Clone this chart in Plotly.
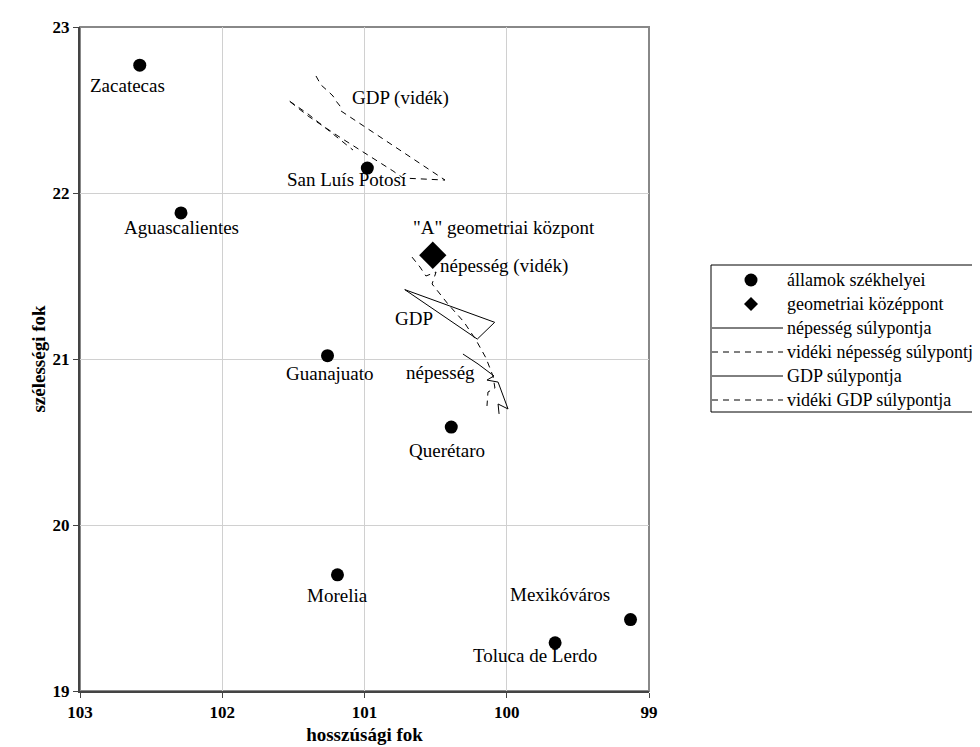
import plotly.graph_objects as go

# ---- data (longitude W in degrees, latitude N in degrees) ----
cities = ["Zacatecas", "San Luís Potosí", "Aguascalientes", "Guanajuato",
          "Querétaro", "Morelia", "Toluca de Lerdo", "Mexikóváros"]
city_lon = [102.58, 100.98, 102.29, 101.26, 100.39, 101.19, 99.66, 99.13]
city_lat = [22.77, 22.15, 21.88, 21.02, 20.59, 19.70, 19.29, 19.43]

center_lon = [100.52]
center_lat = [21.625]

pop_lon = [100.308, 100.202, 100.090, 100.139, 100.061, 100.026, 99.991, 100.061, 100.054]
pop_lat = [21.030, 20.970, 20.898, 20.873, 20.861, 20.777, 20.699, 20.729, 20.669]

rpop_lon = [100.666, 100.610, 100.568, 100.497, 100.525, 100.413, 100.301, 100.216,
            100.146, 100.097, 100.083, 100.132, 100.139]
rpop_lat = [21.614, 21.554, 21.500, 21.524, 21.452, 21.331, 21.223, 21.114,
            21.006, 20.898, 20.825, 20.801, 20.717]

gdp_lon = [100.717, 100.085, 100.207, 100.717]
gdp_lat = [21.418, 21.221, 21.120, 21.418]

rgdp_lon = [101.341, 101.306, 101.257, 101.221, 101.200, 101.172, 101.165, 100.434,
            100.729, 100.800, 101.186, 101.397, 101.538, 101.397, 101.257, 101.081]
rgdp_lat = [22.705, 22.651, 22.614, 22.584, 22.554, 22.524, 22.494, 22.078,
            22.090, 22.133, 22.343, 22.464, 22.560, 22.476, 22.380, 22.259]

# free-standing labels (text, lon, lat)
line_labels = ["GDP (vidék)", "\"A\" geometriai központ", "népesség (vidék)", "GDP", "népesség"]
line_label_lon = [100.75, 100.02, 100.02, 100.652, 100.466]
line_label_lat = [22.57, 21.79, 21.56, 21.247, 20.916]

legend_names = ["államok székhelyei", "geometriai középpont", "népesség súlypontja",
                "vidéki népesség súlypontja", "GDP súlypontja", "vidéki GDP súlypontja"]
legend_kinds = ["circle", "diamond", "solid", "dash", "solid", "dash"]

x_ticks = [103, 102, 101, 100, 99]
y_ticks = [19, 20, 21, 22, 23]

# ---- styling ----
city_label_dx = [-12, -20, 0, 2, -4, 0, -20, -71]
city_label_dy = [20, 11, 15, 18, 23, 21, 13, -25]

FONT = "Liberation Serif"
DASH = "6px,5px"
LBL = 19
ML, MR, MT, MB = 72, 339, 19, 64
W, H = 980, 747
PW, PH = W - ML - MR, H - MT - MB


def px2paper_x(px):
    return (px - ML) / PW


def px2paper_y(py):
    return 1 - (py - MT) / PH


fig = go.Figure()
fig.add_trace(go.Scatter(x=city_lon, y=city_lat, mode="markers", name=legend_names[0],
                         showlegend=False, marker=dict(symbol="circle", size=13, color="black")))
fig.add_trace(go.Scatter(x=center_lon, y=center_lat, mode="markers", name=legend_names[1],
                         showlegend=False, marker=dict(symbol="diamond", size=21, color="black")))
fig.add_trace(go.Scatter(x=pop_lon, y=pop_lat, mode="lines", name=legend_names[2],
                         showlegend=False, line=dict(color="black", width=1)))
fig.add_trace(go.Scatter(x=rpop_lon, y=rpop_lat, mode="lines", name=legend_names[3],
                         showlegend=False, line=dict(color="black", width=1, dash=DASH)))
fig.add_trace(go.Scatter(x=gdp_lon, y=gdp_lat, mode="lines", name=legend_names[4],
                         showlegend=False, line=dict(color="black", width=1)))
fig.add_trace(go.Scatter(x=rgdp_lon, y=rgdp_lat, mode="lines", name=legend_names[5],
                         showlegend=False, line=dict(color="black", width=1, dash=DASH)))

annotations = []
for t, lo, la, dx, dy in zip(cities, city_lon, city_lat, city_label_dx, city_label_dy):
    annotations.append(dict(x=lo, y=la, text=t, showarrow=False, xanchor="center", yanchor="middle",
                            xshift=dx, yshift=-dy, font=dict(family=FONT, size=LBL, color="black")))
for t, lo, la in zip(line_labels, line_label_lon, line_label_lat):
    annotations.append(dict(x=lo, y=la, text=t, showarrow=False, xanchor="center", yanchor="middle",
                            font=dict(family=FONT, size=LBL, color="black")))

shapes = []
# top/right frame in grey
shapes.append(dict(type="rect", xref="paper", yref="paper", x0=0, y0=0, x1=1, y1=1,
                   line=dict(color="#888", width=2), layer="below"))

# ---- hand-drawn legend box (as in the original, running past the right edge) ----
LEG_L, LEG_T, LEG_B = 703, 257, 404
ROW0, ROWH = 272, 24
SYM_X, LINE_X0, LINE_X1, TEXT_X = 743, 704, 775, 777
shapes.append(dict(type="rect", xref="paper", yref="paper",
                   x0=px2paper_x(LEG_L), x1=px2paper_x(W + 40),
                   y0=px2paper_y(LEG_B), y1=px2paper_y(LEG_T),
                   line=dict(color="black", width=1), fillcolor="white", layer="above"))
for i, (name, kind) in enumerate(zip(legend_names, legend_kinds)):
    yc = px2paper_y(ROW0 + i * ROWH)
    if kind == "circle":
        shapes.append(dict(type="circle", xref="paper", yref="paper", xsizemode="pixel",
                           ysizemode="pixel", xanchor=px2paper_x(SYM_X), yanchor=yc,
                           x0=-6.5, x1=6.5, y0=-6.5, y1=6.5,
                           fillcolor="black", line=dict(color="black", width=0)))
    elif kind == "diamond":
        shapes.append(dict(type="path", xref="paper", yref="paper", xsizemode="pixel",
                           ysizemode="pixel", xanchor=px2paper_x(SYM_X), yanchor=yc,
                           path="M 0 7 L 7 0 L 0 -7 L -7 0 Z",
                           fillcolor="black", line=dict(color="black", width=0)))
    else:
        shapes.append(dict(type="line", xref="paper", yref="paper",
                           x0=px2paper_x(LINE_X0), x1=px2paper_x(LINE_X1), y0=yc, y1=yc,
                           line=dict(color="black", width=1,
                                     dash="solid" if kind == "solid" else DASH)))
    annotations.append(dict(xref="paper", yref="paper", x=px2paper_x(TEXT_X), y=yc, text=name,
                            showarrow=False, xanchor="left", yanchor="middle",
                            font=dict(family=FONT, size=18, color="black")))

fig.update_layout(
    width=W, height=H,
    margin=dict(l=ML, r=MR, t=MT, b=MB, autoexpand=False),
    plot_bgcolor="white", paper_bgcolor="white",
    font=dict(family=FONT, size=17, color="black"),
    annotations=annotations,
    shapes=shapes,
    showlegend=False,
)
fig.update_xaxes(range=[103, 99], tickvals=x_ticks, ticktext=[str(v) for v in x_ticks],
                 automargin=False,
                 showgrid=True, gridcolor="#d0d0d0", gridwidth=1, zeroline=False,
                 showline=True, linecolor="#444", linewidth=2, mirror=False,
                 ticks="outside", ticklen=5, tickcolor="#444",
                 tickfont=dict(family=FONT, size=17, color="black", weight="bold"),
                 title=dict(text="<b>hosszúsági fok</b>", font=dict(family=FONT, size=19), standoff=6))
fig.update_yaxes(range=[19, 23], tickvals=y_ticks, ticktext=[str(v) for v in y_ticks],
                 automargin=False,
                 showgrid=True, gridcolor="#d0d0d0", gridwidth=1, zeroline=False,
                 showline=True, linecolor="#444", linewidth=2, mirror=False,
                 ticks="outside", ticklen=5, tickcolor="#444",
                 tickfont=dict(family=FONT, size=17, color="black", weight="bold"),
                 title=dict(text="<b>szélességi fok</b>", font=dict(family=FONT, size=19), standoff=2))

fig.write_html("out.html")
